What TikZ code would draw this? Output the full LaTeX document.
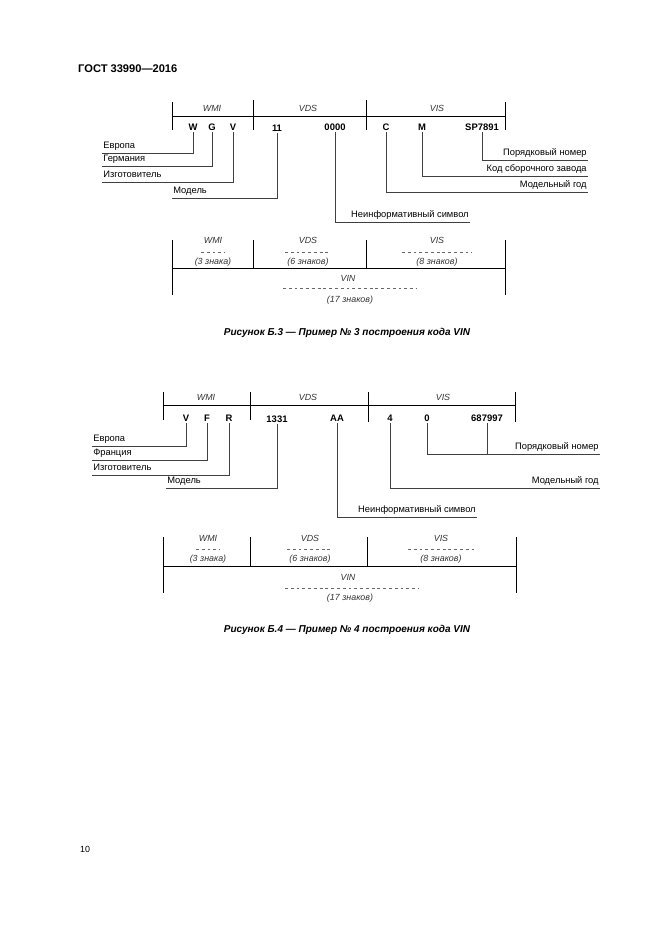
\documentclass[tikz,border=0pt]{standalone}
\usepackage{fontspec}
\setmainfont{Liberation Sans}
\begin{document}
\begin{tikzpicture}[x=0.9pt,y=-0.9pt,
  bar/.style={line width=0.75pt},
  lead/.style={line width=0.35pt,black!75},
  dashline/.style={line width=0.35pt,black!60,dash pattern=on 2.6pt off 2.6pt},
  sym/.style={font=\fontsize{8.5}{10}\selectfont\bfseries,inner sep=1.5pt},
  tag/.style={font=\fontsize{8}{9}\selectfont\itshape,text=black!80,inner sep=1pt},
  note/.style={font=\fontsize{8.4}{9}\selectfont,inner sep=1pt,text height=1.6ex,text depth=0.5ex},
  lnote/.style={note,anchor=south west},
  rnote/.style={note,anchor=south east},
  figcap/.style={font=\fontsize{9}{10}\selectfont\bfseries\itshape}]
\useasboundingbox[fill=white] (0,0) rectangle (661,935);
\node[anchor=west,font=\fontsize{10}{12}\selectfont\bfseries,inner sep=0pt] (head) at (78,69) {ГОСТ 33990—2016};
\node[anchor=west,font=\fontsize{8}{9}\selectfont,inner sep=0pt] (page) at (80,849) {10};

% Figure B.3
\draw[bar] (172,116) -- (505,116);
\foreach \x/\a in {172/102,253/100,366/100,505/102}
\draw[bar] (\x,\a) -- (\x,130);
\foreach \x/\t in {212/WMI,308/VDS,437/VIS}
\node[tag] (a\t) at (\x,108) {\t};
\node[sym] (aW) at (193,127) {W};
\node[sym] (aG) at (212,127) {G};
\node[sym] (aV) at (233,127) {V};
\node[sym] (aDS) at (277,128) {11};
\node[sym] (aZero) at (335,127) {0000};
\node[sym] (aC) at (386,127) {C};
\node[sym] (aM) at (422,127) {M};
\node[sym] (aNum) at (482,127) {SP7891};
\node[lnote] (aEu) at (102,153) {Европа};
\node[lnote] (aDe) at (102,166) {Германия};
\node[lnote] (aMf) at (102,182) {Изготовитель};
\node[lnote] (aMod) at (172,198) {Модель};
\node[rnote] (aSer) at (588,160) {Порядковый номер};
\node[rnote] (aPl) at (588,176) {Код сборочного завода};
\node[rnote] (aYr) at (588,192) {Модельный год};
\node[rnote] (aNi) at (470,222) {Неинформативный символ};
\draw[lead] (aW) |- (aEu.south west);
\draw[lead] (aG) |- (aDe.south west);
\draw[lead] (aV) |- (aMf.south west);
\draw[lead] (aDS) |- (aMod.south west);
\draw[lead] (aNum) |- (aSer.south east);
\draw[lead] (aM) |- (aPl.south east);
\draw[lead] (aC) |- (aYr.south east);
\draw[lead] (aZero) |- (aNi.south east);

\draw[bar] (172,268) -- (505,268);
\foreach \x/\a in {172/295,253/268,366/268,505/295}
\draw[bar] (\x,240) -- (\x,\a);
\foreach \x/\t/\n/\w in {213/WMI/3 знака/12,308/VDS/6 знаков/23,437/VIS/8 знаков/35}{
\node[tag] (b\t) at (\x,240) {\t};
\node[tag] (bn\t) at (\x,262) {(\n)};
\draw[dashline] (\x-\w,252) -- (\x+\w,252);
}
\node[tag] (bVIN) at (348,278) {VIN};
\draw[dashline] (283,288) -- (417,288);
\node[tag] (bnVIN) at (350,300) {(17 знаков)};
\node[figcap] (capA) at (347,333) {Рисунок Б.3 — Пример № 3 построения кода VIN};

% Figure B.4
\draw[bar] (163,405) -- (515,405);
\foreach \x/\b in {163/420,250/420,368/422,515/422}
\draw[bar] (\x,392) -- (\x,\b);
\foreach \x/\t in {206/WMI,308/VDS,443/VIS}
\node[tag] (c\t) at (\x,397) {\t};
\node[sym] (cV) at (186,418) {V};
\node[sym] (cF) at (207,418) {F};
\node[sym] (cR) at (229,418) {R};
\node[sym] (cDS) at (277,419) {1331};
\node[sym] (cAA) at (337,418) {AA};
\node[sym] (cYr) at (390,418) {4};
\node[sym] (cPl) at (427,418) {0};
\node[sym] (cNum) at (487,418) {687997};
\node[lnote] (cEu) at (92,446) {Европа};
\node[lnote] (cFr) at (92,460) {Франция};
\node[lnote] (cMf) at (92,475) {Изготовитель};
\node[lnote] (cMod) at (166,488) {Модель};
\node[rnote] (cSer) at (600,454) {Порядковый номер};
\node[rnote] (cMy) at (600,488) {Модельный год};
\node[rnote] (cNi) at (477,517) {Неинформативный символ};
\draw[lead] (cV) |- (cEu.south west);
\draw[lead] (cF) |- (cFr.south west);
\draw[lead] (cR) |- (cMf.south west);
\draw[lead] (cDS) |- (cMod.south west);
\draw[lead] (cPl) |- (cSer.south east);
\draw[lead] (cNum) -- (cNum |- cSer.south);
\draw[lead] (cYr) |- (cMy.south east);
\draw[lead] (cAA) |- (cNi.south east);

\draw[bar] (163,566) -- (516,566);
\foreach \x/\a in {163/593,250/566,367/566,516/593}
\draw[bar] (\x,537) -- (\x,\a);
\foreach \x/\t/\n/\w in {208/WMI/3 знака/12,310/VDS/6 знаков/23,441/VIS/8 знаков/33}{
\node[tag] (d\t) at (\x,538) {\t};
\node[tag] (dn\t) at (\x,559) {(\n)};
\draw[dashline] (\x-\w,549) -- (\x+\w,549);
}
\node[tag] (dVIN) at (348,577) {VIN};
\draw[dashline] (285,588) -- (418,588);
\node[tag] (dnVIN) at (350,598) {(17 знаков)};
\node[figcap] (capB) at (347,630) {Рисунок Б.4 — Пример № 4 построения кода VIN};
\end{tikzpicture}
\end{document}
